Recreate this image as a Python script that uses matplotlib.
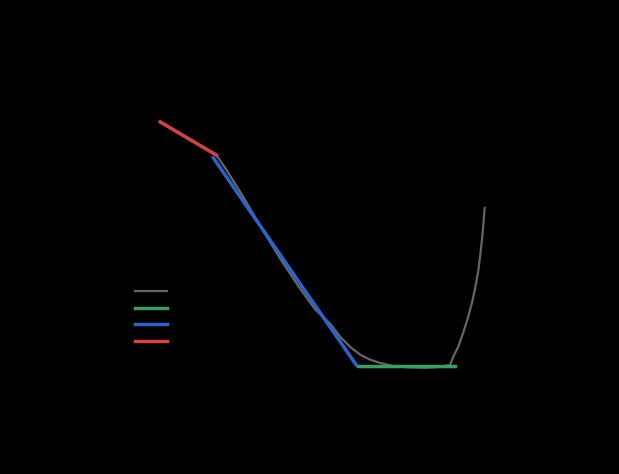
import matplotlib
matplotlib.use("Agg")
import matplotlib.pyplot as plt

# Allan deviation (log-log)
tau = [0.73, 1.33, 2.81, 3.48, 4.99, 8.06, 13.0, 21.0, 30.1, 43.2, 54.9, 69.8,
       88.8, 113, 143, 196, 274, 422, 604, 767, 826, 931, 1049, 1183, 1303,
       1400, 1503, 1578, 1655, 1714, 1758]
adev = [0.292, 0.220, 0.156, 0.122, 0.0776, 0.0408, 0.0219, 0.0124, 0.00840,
        0.00640, 0.00500, 0.00413, 0.00356, 0.00324, 0.00305, 0.00288, 0.00281,
        0.00278, 0.00283, 0.00294, 0.00342, 0.00413, 0.00538, 0.00729, 0.00968,
        0.0126, 0.0171, 0.0231, 0.0325, 0.0441, 0.0574]

# fitted noise terms
arw_tau = [0.73, 2.81]
arw_adev = [0.292, 0.156]
qn_tau = [2.61, 80.5]
qn_adev = [0.148, 0.00294]
bi_tau = [84.5, 866]
bi_adev = [0.00288, 0.00288]

labels = ["Allan deviation", "Bias instability", "Quantization noise", "Angle random walk"]
colors = ["#666666", "#3c9e62", "#2b63c9", "#d24444"]

fig = plt.figure(figsize=(6.19, 4.74), dpi=100, facecolor="black")
ax = fig.add_subplot(111, facecolor="black")
fig.subplots_adjust(left=0.125, right=0.9, bottom=0.11, top=0.88)

ax.loglog(tau, adev, color=colors[0], lw=1.6, label=labels[0])
ax.loglog(bi_tau, bi_adev, color=colors[1], lw=2.5, label=labels[1])
ax.loglog(qn_tau, qn_adev, color=colors[2], lw=2.5, label=labels[2])
ax.loglog(arw_tau, arw_adev, color=colors[3], lw=2.5, label=labels[3])

ax.set_xlim(0.1, 1e4)
ax.set_ylim(1e-3, 1)
ax.set_xlabel(r"$\tau$ (s)")
ax.set_ylabel(r"$\sigma(\tau)$ (deg/s)")
ax.set_title("Allan deviation of gyroscope")
ax.legend(loc="upper left", bbox_to_anchor=(0.096, 0.405), frameon=False,
          fontsize=9, handlelength=2.55, labelspacing=0.3)

fig.savefig("out.png", dpi=100, facecolor="black")
